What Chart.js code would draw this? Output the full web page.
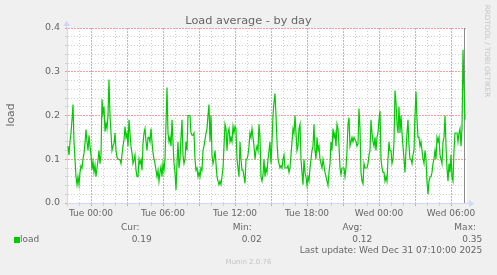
<!DOCTYPE html>
<html>
<head>
<meta charset="utf-8">
<script src="https://cdn.jsdelivr.net/npm/chart.js@4/dist/chart.umd.min.js"></script>
<style>
  html, body { margin: 0; padding: 0; background: #f0f0f0; }
  #wrap { position: relative; width: 497px; height: 275px; overflow: hidden;
          font-family: "DejaVu Sans", sans-serif; color: #666; }
  #wrap canvas { position: absolute; left: 0; top: 0; }
  .txt { position: absolute; white-space: nowrap; }
  .r { text-align: right; }
</style>
</head>
<body>
<div id="wrap">
  <canvas id="graficoLoad" width="497" height="275"></canvas>
  <div class="txt" id="titulo" style="left:0;width:497px;top:14px;line-height:14px;font-size:11.3px;text-align:center;"></div>
  <div class="txt" id="vlabel" style="left:-10px;top:108px;width:42px;line-height:14px;font-size:10.8px;text-align:center;transform:rotate(-90deg);"></div>
  <div class="txt" style="left:437px;top:45px;width:100px;line-height:12px;font-size:7.2px;text-align:center;color:#c4c4c4;transform:rotate(90deg);">RRDTOOL / TOBI OETIKER</div>
  <div id="legenda"></div>
  <div class="txt r" id="ultima" style="right:14.7px;top:245px;line-height:11px;font-size:9px;"></div>
  <div class="txt" style="left:0;width:497px;top:257px;line-height:10px;font-size:7px;text-align:center;color:#c4c4c4;">Munin 2.0.76</div>
</div>
<script>
// ======================================
// DADOS
// ======================================
const titulo = 'Load average - by day';
const rotuloVertical = 'load';
const serieNome = 'load';
const serieCor = '#00cc00';

// eixo x em minutos a partir de Tue 00:00
const eixoMin = -120;   // Mon 22:00
const eixoMax = 1880;   // Wed 07:20
const inicioSerie = -115; // primeira amostra, Mon 22:05
const passoMin = 5;      // uma amostra a cada 5 minutos
const ultimaAtualizacao = 1870; // Wed 07:10

const rotulosX = { 0: 'Tue 00:00', 360: 'Tue 06:00', 720: 'Tue 12:00', 1080: 'Tue 18:00', 1440: 'Wed 00:00', 1800: 'Wed 06:00' };
const yMin = 0;
const yMax = 0.4;

// uma linha = uma hora (12 amostras), começando em Mon 22:05
const load = [
    0.13, 0.11, 0.14, 0.16, 0.19, 0.225, 0.14, 0.10, 0.06, 0.042, 0.06, 0.042,
    0.07, 0.085, 0.08, 0.10, 0.114, 0.136, 0.168, 0.14, 0.12, 0.155, 0.13, 0.11,
    0.076, 0.095, 0.07, 0.087, 0.06, 0.08, 0.098, 0.12, 0.09, 0.11, 0.237, 0.205,
    0.22, 0.163, 0.182, 0.17, 0.2, 0.282, 0.2, 0.16, 0.12, 0.13, 0.136, 0.16,
    0.12, 0.105, 0.1, 0.1, 0.098, 0.09, 0.11, 0.13, 0.144, 0.175, 0.15, 0.159,
    0.129, 0.19, 0.16, 0.13, 0.114, 0.09, 0.098, 0.11, 0.075, 0.06, 0.06, 0.1,
    0.09, 0.098, 0.075, 0.136, 0.16, 0.17, 0.14, 0.12, 0.15, 0.15, 0.14, 0.17,
    0.14, 0.115, 0.1, 0.09, 0.075, 0.06, 0.075, 0.05, 0.07, 0.083, 0.06, 0.09,
    0.075, 0.1, 0.18, 0.264, 0.16, 0.14, 0.15, 0.13, 0.19, 0.14, 0.09, 0.07,
    0.03, 0.09, 0.14, 0.08, 0.1, 0.15, 0.19, 0.11, 0.09, 0.1, 0.14, 0.12,
    0.2, 0.2, 0.2, 0.16, 0.155, 0.155, 0.16, 0.1, 0.075, 0.08, 0.06, 0.07,
    0.06, 0.08, 0.075, 0.12, 0.13, 0.145, 0.16, 0.17, 0.2, 0.225, 0.14, 0.2,
    0.11, 0.09, 0.1, 0.12, 0.09, 0.06, 0.05, 0.042, 0.05, 0.042, 0.06, 0.08,
    0.13, 0.18, 0.17, 0.12, 0.16, 0.17, 0.14, 0.15, 0.14, 0.175, 0.16, 0.175,
    0.17, 0.1, 0.08, 0.06, 0.14, 0.1, 0.075, 0.075, 0.06, 0.045, 0.1, 0.1,
    0.11, 0.13, 0.16, 0.15, 0.17, 0.15, 0.13, 0.1, 0.12, 0.13, 0.12, 0.18,
    0.15, 0.06, 0.05, 0.065, 0.1, 0.06, 0.08, 0.07, 0.1, 0.12, 0.14, 0.09,
    0.14, 0.2, 0.23, 0.25, 0.2, 0.14, 0.1, 0.09, 0.08, 0.085, 0.08, 0.1,
    0.11, 0.08, 0.08, 0.08, 0.085, 0.07, 0.08, 0.11, 0.14, 0.17, 0.16, 0.2,
    0.16, 0.12, 0.13, 0.17, 0.18, 0.1, 0.07, 0.042, 0.1, 0.07, 0.06, 0.04,
    0.06, 0.05, 0.08, 0.1, 0.12, 0.13, 0.18, 0.12, 0.1, 0.15, 0.12, 0.13,
    0.1, 0.09, 0.08, 0.1, 0.085, 0.07, 0.06, 0.05, 0.04, 0.07, 0.09, 0.14,
    0.12, 0.17, 0.15, 0.16, 0.13, 0.18, 0.17, 0.13, 0.08, 0.065, 0.08, 0.08,
    0.08, 0.06, 0.08, 0.12, 0.18, 0.195, 0.13, 0.14, 0.15, 0.14, 0.15, 0.145,
    0.14, 0.13, 0.135, 0.216, 0.17, 0.07, 0.05, 0.044, 0.09, 0.08, 0.08, 0.08,
    0.09, 0.11, 0.12, 0.19, 0.16, 0.14, 0.13, 0.15, 0.12, 0.15, 0.16, 0.19,
    0.21, 0.1, 0.08, 0.07, 0.07, 0.05, 0.06, 0.05, 0.1, 0.14, 0.12, 0.12,
    0.09, 0.1, 0.14, 0.257, 0.23, 0.18, 0.16, 0.22, 0.16, 0.2, 0.16, 0.13,
    0.1, 0.07, 0.12, 0.16, 0.19, 0.13, 0.1, 0.1, 0.09, 0.11, 0.12, 0.2,
    0.255, 0.19, 0.15, 0.15, 0.13, 0.14, 0.12, 0.1, 0.09, 0.12, 0.1, 0.05,
    0.02, 0.05, 0.06, 0.06, 0.07, 0.09, 0.1, 0.12, 0.1, 0.15, 0.14, 0.15,
    0.11, 0.1, 0.09, 0.14, 0.15, 0.2, 0.13, 0.08, 0.05, 0.09, 0.07, 0.11,
    0.06, 0.05, 0.12, 0.16, 0.16, 0.16, 0.14, 0.16, 0.17, 0.13, 0.17, 0.35,
    0.26, 0.19
];

// legenda
const colunasLegenda = ['Cur:', 'Min:', 'Avg:', 'Max:'];
const valoresLegenda = ['0.19', '0.02', '0.12', '0.35'];
const textoAtualizacao = 'Last update: Wed Dec 31 07:10:00 2025';

// ======================================
// ESTILO
// ======================================
const corFonte = '#666';
const corEixo = '#cfd6f8';
const corGradeMaior = 'rgba(240, 80, 80, 0.55)';
const corGradeMenor = '#d0d0d0';

function ehDecimo(v) {
    return Math.abs(Math.round(v * 100)) % 10 === 0;
}

function maiorY(c) { return !!(c.tick && ehDecimo(c.tick.value)); }
function maiorX(c) { return !!(c.tick && c.tick.value % 180 === 0); }

const corGradeY = (c) => maiorY(c) ? corGradeMaior : corGradeMenor;
const corGradeX = (c) => maiorX(c) ? corGradeMaior : corGradeMenor;
const tracoY = (c) => maiorY(c) ? [2, 1] : [1, 2];
const tracoX = (c) => maiorX(c) ? [2, 1] : [1, 2];

// fundo branco da área do gráfico + setas dos eixos + linha da última atualização
const pluginMunin = {
    id: 'munin',
    beforeDraw(chart) {
        const { ctx, chartArea: a } = chart;
        ctx.save();
        ctx.fillStyle = '#ffffff';
        ctx.fillRect(a.left, a.top, a.right - a.left, a.bottom - a.top);
        ctx.restore();
    },
    beforeDatasetsDraw(chart) {
        const { ctx, chartArea: a, scales } = chart;
        const x = Math.round(scales.x.getPixelForValue(ultimaAtualizacao)) - 0.5;
        ctx.save();
        ctx.strokeStyle = '#8c8c8c';
        ctx.lineWidth = 1;
        ctx.beginPath();
        ctx.moveTo(x, a.top);
        ctx.lineTo(x, a.bottom);
        ctx.stroke();
        ctx.restore();
    },
    afterDraw(chart) {
        const { ctx, chartArea: a } = chart;
        ctx.save();
        ctx.strokeStyle = corEixo;
        ctx.fillStyle = corEixo;
        ctx.lineWidth = 1;
        // prolongamentos dos eixos
        ctx.beginPath();
        ctx.moveTo(a.right, a.bottom + 0.5);
        ctx.lineTo(a.right + 3, a.bottom + 0.5);
        ctx.moveTo(a.left - 0.5, a.top);
        ctx.lineTo(a.left - 0.5, a.top - 3);
        ctx.stroke();
        // seta x
        ctx.beginPath();
        ctx.moveTo(a.right + 2, a.bottom - 3);
        ctx.lineTo(a.right + 2, a.bottom + 4);
        ctx.lineTo(a.right + 7, a.bottom + 0.5);
        ctx.closePath();
        ctx.fill();
        // seta y
        ctx.beginPath();
        ctx.moveTo(a.left - 4, a.top - 2);
        ctx.lineTo(a.left + 3, a.top - 2);
        ctx.lineTo(a.left - 0.5, a.top - 7);
        ctx.closePath();
        ctx.fill();
        ctx.restore();
    }
};

function renderGrafico() {
    document.getElementById('titulo').innerText = titulo;
    document.getElementById('vlabel').innerText = rotuloVertical;

    // legenda em HTML
    const legenda = document.getElementById('legenda');
    const direitaRotulo = [139.5, 251.7, 362.3, 476];
    const direitaValor = [151.7, 261.7, 372.3, 482.3];
    colunasLegenda.forEach((nome, i) => {
        const d = document.createElement('div');
        d.className = 'txt r';
        d.style.cssText = 'left:' + (direitaRotulo[i] - 60) + 'px;width:60px;top:221.5px;line-height:11px;font-size:9px;';
        d.innerText = nome;
        legenda.appendChild(d);

        const v = document.createElement('div');
        v.className = 'txt r';
        v.style.cssText = 'left:' + (direitaValor[i] - 60) + 'px;width:60px;top:234px;line-height:11px;font-size:9px;';
        v.innerText = valoresLegenda[i];
        legenda.appendChild(v);
    });
    const quadrado = document.createElement('div');
    quadrado.className = 'txt';
    quadrado.style.cssText = 'left:14px;top:236.5px;width:6px;height:6px;background:' + serieCor + ';';
    legenda.appendChild(quadrado);
    const nome = document.createElement('div');
    nome.className = 'txt';
    nome.style.cssText = 'left:20px;top:234px;line-height:11px;font-size:9px;';
    nome.innerText = serieNome;
    legenda.appendChild(nome);
    document.getElementById('ultima').innerText = textoAtualizacao;

    const pontos = load.map((v, i) => ({ x: inicioSerie + i * passoMin, y: v }));

    const ctx = document.getElementById('graficoLoad');
    new Chart(ctx, {
        type: 'line',
        data: {
            datasets: [{
                label: serieNome,
                data: pontos,
                borderColor: serieCor,
                borderWidth: 1.2,
                pointRadius: 0,
                tension: 0,
                fill: false
            }]
        },
        options: {
            responsive: false,
            animation: false,
            events: [],
            layout: { padding: { top: 28, right: 30, left: 0, bottom: 0 } },
            plugins: {
                legend: { display: false },
                title: { display: false },
                tooltip: { enabled: false }
            },
            scales: {
                x: {
                    type: 'linear',
                    min: eixoMin,
                    max: eixoMax,
                    afterFit: (s) => { s.height = 72; },
                    afterBuildTicks: (s) => {
                        s.ticks = s.ticks.filter(t => t.value % 60 === 0);
                    },
                    ticks: {
                        stepSize: 60,
                        autoSkip: false,
                        maxRotation: 0,
                        padding: 2,
                        color: corFonte,
                        font: { family: 'DejaVu Sans', size: 9 },
                        callback: (v) => rotulosX[v] || ''
                    },
                    grid: {
                        color: corGradeX,
                        tickColor: corGradeX,
                        tickLength: 3,
                        lineWidth: 1
                    },
                    border: { color: corEixo, width: 1, dash: tracoX }
                },
                y: {
                    min: yMin,
                    max: yMax,
                    afterFit: (s) => { s.width = 67; },
                    ticks: {
                        stepSize: 0.02,
                        autoSkip: false,
                        padding: 5,
                        color: corFonte,
                        font: { family: 'DejaVu Sans', size: 9.5 },
                        callback: (v) => ehDecimo(v) ? v.toFixed(1) : ''
                    },
                    grid: {
                        color: corGradeY,
                        tickColor: corGradeY,
                        tickLength: 2,
                        lineWidth: 1
                    },
                    border: { color: corEixo, width: 1, dash: tracoY }
                }
            }
        },
        plugins: [pluginMunin]
    });
}

document.addEventListener('DOMContentLoaded', () => {
    renderGrafico();
});
</script>
</body>
</html>
